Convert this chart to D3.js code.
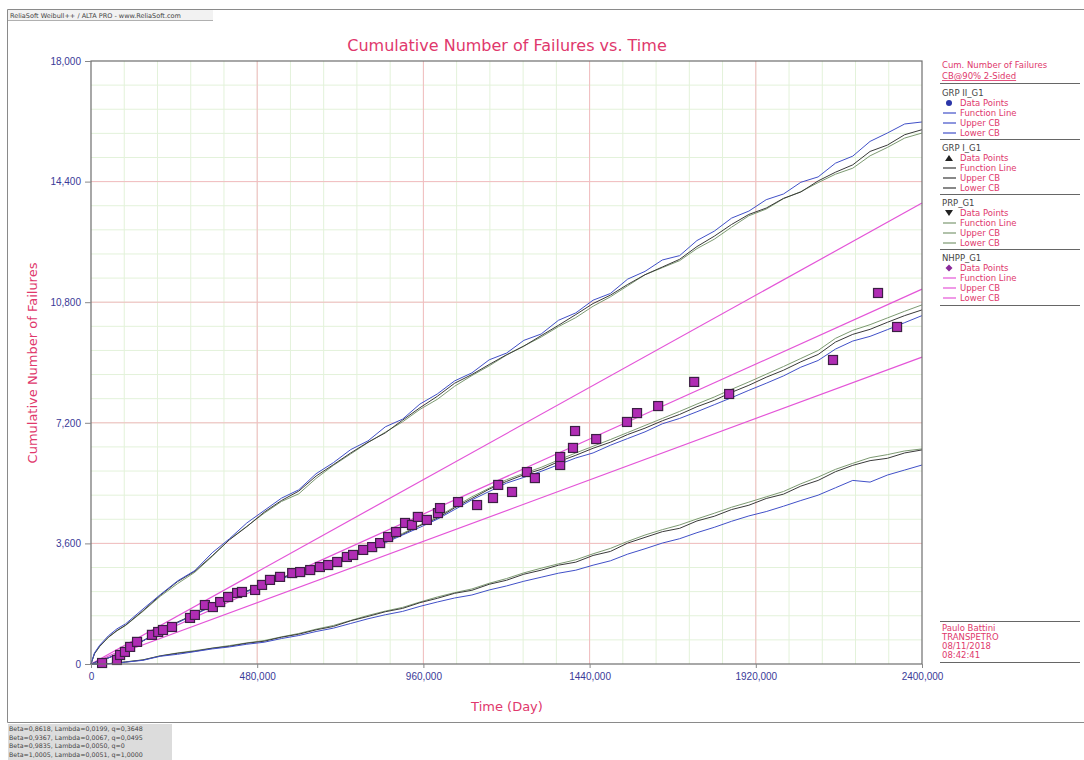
<!DOCTYPE html>
<html>
<head>
<meta charset="utf-8">
<script src="https://cdn.jsdelivr.net/npm/d3@7"></script>
<style>
  html, body { margin: 0; padding: 0; background: #fff; }
  svg { display: block; font-family: "DejaVu Sans", "Liberation Sans", sans-serif; }
</style>
</head>
<body>
<svg id="chart" width="1084" height="760"></svg>
<script>
// ---- data ----------------------------------------------------------------
const xTickValues = [0, 480000, 960000, 1440000, 1920000, 2400000];
const xTickLabels = ["0", "480,000", "960,000", "1440,000", "1920,000", "2400,000"];
const yTickValues = [0, 3600, 7200, 10800, 14400, 18000];
const yTickLabels = ["0", "3,600", "7,200", "10,800", "14,400", "18,000"];

// observed cumulative failures (time, count)
const obsTime = [32000, 75000, 84000, 98000, 113000, 133000, 176000, 194000, 208000, 234000,
  286000, 300000, 329000, 352000, 373000, 396000, 422000, 436000, 474000, 494000,
  517000, 546000, 581000, 604000, 633000, 661000, 685000, 711000, 739000, 757000,
  786000, 812000, 835000, 858000, 881000, 907000, 927000, 944000, 970000, 1002000,
  1008000, 1060000, 1115000, 1161000, 1176000, 1216000, 1259000, 1282000, 1355000, 1355000,
  1392000, 1398000, 1459000, 1548000, 1577000, 1638000, 1742000, 1843000, 2143000, 2273000,
  2328000];
const obsCount = [30, 120, 270, 360, 510, 660, 870, 955, 1015, 1105,
  1375, 1465, 1760, 1700, 1850, 2000, 2120, 2150, 2210, 2360,
  2510, 2600, 2715, 2745, 2805, 2895, 2955, 3045, 3195, 3255,
  3405, 3490, 3610, 3790, 3940, 4210, 4150, 4390, 4300, 4505,
  4655, 4835, 4745, 4955, 5345, 5135, 5730, 5550, 5940, 6180,
  6450, 6955, 6715, 7225, 7490, 7700, 8420, 8060, 9075, 11075,
  10060];

// simulated GRP / PRP curves sampled on a common time grid
const simTime = [0, 10000, 25000, 50000, 75000, 100000, 150000,
  200000, 250000, 300000, 350000, 400000, 450000, 500000, 550000, 600000, 650000,
  700000, 750000, 800000, 850000, 900000, 950000, 1000000, 1050000, 1100000, 1150000,
  1200000, 1250000, 1300000, 1350000, 1400000, 1450000, 1500000, 1550000, 1600000, 1650000,
  1700000, 1750000, 1800000, 1850000, 1900000, 1950000, 2000000, 2050000, 2100000, 2150000,
  2200000, 2250000, 2300000, 2350000, 2400000];

const grp2Upper = [0, 330, 560, 840, 1050, 1200, 1640, 2070, 2480, 2790, 3320, 3740, 4210, 4580, 4950, 5200, 5680, 6010, 6400, 6660, 7080, 7310, 7760, 8060, 8450, 8690, 9080, 9280, 9660, 9850, 10260, 10480, 10860, 11060, 11490, 11720, 12060, 12190, 12640, 12920, 13310, 13520, 13860, 14030, 14380, 14540, 14950, 15160, 15600, 15850, 16120, 16180];
const grp2Fn    = [0, 40, 110, 180, 290, 390, 690, 980, 1230, 1480, 1720, 1960, 2160, 2340, 2540, 2730, 2880, 3020, 3210, 3400, 3620, 3850, 4080, 4320, 4610, 4900, 5150, 5400, 5570, 5750, 5950, 6150, 6300, 6530, 6730, 6930, 7170, 7330, 7530, 7740, 7950, 8170, 8380, 8600, 8860, 9060, 9400, 9640, 9780, 9980, 10190, 10400];
const grp2Lower = [0, 0, 0, 10, 28, 55, 110, 230, 290, 370, 450, 510, 590, 650, 760, 850, 970, 1070, 1210, 1350, 1470, 1570, 1720, 1850, 1970, 2060, 2210, 2330, 2470, 2590, 2710, 2800, 2950, 3080, 3280, 3440, 3610, 3740, 3920, 4080, 4260, 4420, 4550, 4710, 4880, 5040, 5260, 5480, 5430, 5640, 5790, 5940];

const grp1Upper = [0, 310, 530, 800, 1000, 1160, 1590, 2050, 2460, 2770, 3230, 3710, 4100, 4530, 4880, 5160, 5610, 5950, 6300, 6620, 6900, 7280, 7650, 7990, 8380, 8640, 8940, 9230, 9490, 9800, 10110, 10430, 10760, 11010, 11330, 11620, 11850, 12080, 12460, 12770, 13120, 13420, 13610, 13900, 14090, 14420, 14680, 14900, 15300, 15490, 15800, 15950];
const grp1Fn    = [0, 40, 110, 180, 290, 390, 690, 985, 1250, 1480, 1740, 1960, 2180, 2350, 2570, 2740, 2910, 3040, 3250, 3420, 3660, 3870, 4130, 4350, 4660, 4940, 5220, 5450, 5650, 5810, 6040, 6230, 6440, 6620, 6850, 7040, 7260, 7450, 7680, 7870, 8110, 8320, 8560, 8770, 9020, 9240, 9610, 9840, 9990, 10200, 10400, 10570];
const grp1Lower = [0, 0, 0, 10, 30, 60, 120, 240, 320, 380, 470, 530, 620, 680, 800, 890, 1020, 1120, 1290, 1420, 1560, 1660, 1830, 1960, 2110, 2200, 2380, 2500, 2680, 2800, 2950, 3040, 3240, 3360, 3610, 3780, 3950, 4050, 4270, 4410, 4610, 4740, 4940, 5070, 5310, 5480, 5740, 5930, 6070, 6140, 6300, 6390];

const prpUpper  = [0, 300, 520, 790, 990, 1150, 1570, 2020, 2400, 2740, 3210, 3720, 4110, 4500, 4850, 5080, 5540, 5930, 6270, 6610, 6920, 7230, 7600, 7900, 8290, 8610, 8900, 9220, 9490, 9760, 10070, 10340, 10680, 10960, 11290, 11620, 11830, 12040, 12400, 12680, 13040, 13380, 13580, 13890, 14100, 14370, 14620, 14800, 15170, 15420, 15700, 15850];
const prpFn     = [0, 40, 110, 180, 295, 395, 695, 990, 1250, 1500, 1740, 1980, 2180, 2370, 2570, 2760, 2910, 3060, 3260, 3450, 3680, 3900, 4150, 4390, 4690, 4990, 5250, 5500, 5690, 5870, 6090, 6300, 6500, 6700, 6910, 7120, 7330, 7540, 7760, 7970, 8200, 8420, 8650, 8880, 9120, 9360, 9720, 9960, 10130, 10330, 10530, 10720];
const prpLower  = [0, 0, 0, 10, 32, 65, 125, 245, 330, 400, 475, 550, 630, 700, 810, 910, 1040, 1150, 1300, 1450, 1580, 1690, 1850, 2000, 2130, 2240, 2410, 2550, 2720, 2860, 2990, 3110, 3290, 3450, 3660, 3850, 4010, 4150, 4330, 4500, 4680, 4830, 4990, 5150, 5380, 5580, 5810, 5990, 6160, 6250, 6360, 6420];

// NHPP power-law fit (nearly linear, beta ~ 1) and its bounds
const nhppTime  = [0, 2400000];
const nhppFn    = [0, 11190];
const nhppUpper = [0, 13760];
const nhppLower = [0, 9160];

const legendGroups = ["GRP II_G1", "GRP I_G1", "PRP_G1", "NHPP_G1"];
const legendRows = ["Data Points", "Function Line", "Upper CB", "Lower CB"];
const paramLines = [
  "Beta=0,8618, Lambda=0,0199, q=0,3648",
  "Beta=0,9367, Lambda=0,0067, q=0,0495",
  "Beta=0,9835, Lambda=0,0050, q=0",
  "Beta=1,0005, Lambda=0,0051, q=1,0000"
];
const userInfo = ["Paulo Battini", "TRANSPETRO", "08/11/2018", "08:42:41"];

// ---- drawing ---------------------------------------------------------------
const svg = d3.select("#chart");
const PL = 91, PR = 922, PT = 61, PB = 664;
const x = d3.scaleLinear().domain([0, 2400000]).range([PL, PR]);
const y = d3.scaleLinear().domain([0, 18000]).range([PB, PT]);

const pinkText = "#e0386c";
const navy = "#3a3a98";
const cBlue = "#4150c8", cDark = "#3a3a3a", cGreen = "#7d9a72", cPink = "#e455d8";

// window frame and header
svg.append("line").attr("x1", 7.5).attr("x2", 1084).attr("y1", 9.5).attr("y2", 9.5).attr("stroke", "#8a8a8a");
svg.append("line").attr("x1", 7.5).attr("x2", 7.5).attr("y1", 9.5).attr("y2", 722.5).attr("stroke", "#8a8a8a");
svg.append("line").attr("x1", 7.5).attr("x2", 1084).attr("y1", 722.5).attr("y2", 722.5).attr("stroke", "#8a8a8a");
svg.append("rect").attr("x", 8).attr("y", 10).attr("width", 205).attr("height", 10).attr("fill", "#f2f2f2");
svg.append("line").attr("x1", 8).attr("x2", 213).attr("y1", 20.5).attr("y2", 20.5).attr("stroke", "#b0b0b0");
svg.append("text").attr("x", 10).attr("y", 18).attr("font-size", 6.5).attr("fill", "#444")
  .text("ReliaSoft Weibull++ / ALTA PRO - www.ReliaSoft.com");

// minor grid
const gGrid = svg.append("g");
d3.range(96000, 2400000, 96000).forEach(v => {
  gGrid.append("line").attr("x1", x(v)).attr("x2", x(v)).attr("y1", PT).attr("y2", PB)
    .attr("stroke", "#e3f2da").attr("stroke-width", 1);
});
d3.range(720, 18000, 720).forEach(v => {
  gGrid.append("line").attr("x1", PL).attr("x2", PR).attr("y1", y(v)).attr("y2", y(v))
    .attr("stroke", "#e3f2da").attr("stroke-width", 1);
});
// major grid
xTickValues.slice(1, -1).forEach(v => {
  gGrid.append("line").attr("x1", x(v)).attr("x2", x(v)).attr("y1", PT).attr("y2", PB)
    .attr("stroke", "#f2bcc0").attr("stroke-width", 1);
});
yTickValues.slice(1, -1).forEach(v => {
  gGrid.append("line").attr("x1", PL).attr("x2", PR).attr("y1", y(v)).attr("y2", y(v))
    .attr("stroke", "#f2bcc0").attr("stroke-width", 1);
});

// curves
const line = d3.line().x(d => x(d[0])).y(d => y(d[1]));
const gLines = svg.append("g").attr("fill", "none").attr("stroke-linejoin", "round");
function drawSeries(ts, vs, color, w) {
  gLines.append("path").datum(ts.map((t, i) => [t, vs[i]]))
    .attr("d", line).attr("stroke", color).attr("stroke-width", w || 1);
}
drawSeries(nhppTime, nhppUpper, cPink, 1.2);
drawSeries(nhppTime, nhppFn, cPink, 1.2);
drawSeries(nhppTime, nhppLower, cPink, 1.2);

drawSeries(simTime, prpUpper, cGreen);
drawSeries(simTime, grp1Upper, cDark);
drawSeries(simTime, grp2Upper, cBlue);
drawSeries(simTime, prpLower, cGreen);
drawSeries(simTime, grp1Lower, cDark);
drawSeries(simTime, grp2Lower, cBlue);
drawSeries(simTime, prpFn, cGreen);
drawSeries(simTime, grp1Fn, cDark);
drawSeries(simTime, grp2Fn, cBlue);

// observed points
const pts = obsTime.map((t, i) => [t, obsCount[i]]);
svg.append("g").selectAll("rect").data(pts).join("rect")
  .attr("x", d => x(d[0]) - 4.5).attr("y", d => y(d[1]) - 4.5)
  .attr("width", 9).attr("height", 9)
  .attr("fill", "#b02cb4").attr("stroke", "#3c1f44").attr("stroke-width", 1.2);

// plot frame
svg.append("rect").attr("x", PL).attr("y", PT).attr("width", PR - PL).attr("height", PB - PT)
  .attr("fill", "none").attr("stroke", "#6e6e6e").attr("stroke-width", 1.2);

// axes
const yAxis = d3.axisLeft(y).tickValues(yTickValues)
  .tickFormat((d, i) => yTickLabels[i]).tickSize(6).tickSizeOuter(0).tickPadding(4);
const gy = svg.append("g").attr("transform", `translate(${PL},0)`).call(yAxis);
gy.select(".domain").remove();
gy.selectAll("line").attr("stroke", "#888");
gy.selectAll("text").attr("fill", navy).attr("font-size", 10);

const xAxis = d3.axisBottom(x).tickValues(xTickValues)
  .tickFormat((d, i) => xTickLabels[i]).tickSize(4).tickSizeOuter(0).tickPadding(5);
const gx = svg.append("g").attr("transform", `translate(0,${PB})`).call(xAxis);
gx.select(".domain").remove();
gx.selectAll("line").attr("stroke", "#888");
gx.selectAll("text").attr("fill", navy).attr("font-size", 10);

// titles
svg.append("text").attr("x", 507).attr("y", 51).attr("text-anchor", "middle")
  .attr("font-size", 16).attr("fill", pinkText).text("Cumulative Number of Failures vs. Time");
svg.append("text").attr("x", 507).attr("y", 711).attr("text-anchor", "middle")
  .attr("font-size", 13).attr("fill", pinkText).text("Time (Day)");
svg.append("text").attr("transform", "translate(37,363) rotate(-90)").attr("text-anchor", "middle")
  .attr("font-size", 13).attr("fill", pinkText).text("Cumulative Number of Failures");

// legend panel
const gL = svg.append("g").attr("font-size", 8.5);
gL.append("text").attr("x", 942).attr("y", 68).attr("fill", pinkText).text("Cum. Number of Failures");
gL.append("text").attr("x", 942).attr("y", 79).attr("fill", pinkText)
  .attr("text-decoration", "underline").text("CB@90% 2-Sided");
const sepY = [83.5, 139.5, 194.5, 249.5, 305.5];
sepY.forEach(v => gL.append("line").attr("x1", 940).attr("x2", 1080).attr("y1", v).attr("y2", v)
  .attr("stroke", "#666").attr("stroke-width", 1.2));
const groupColors = [cBlue, cDark, cGreen, cPink];
legendGroups.forEach((g, gi) => {
  const top = 93 + gi * 55;
  gL.append("text").attr("x", 942).attr("y", top + 3).attr("fill", "#444").text(g);
  legendRows.forEach((r, ri) => {
    const ry = top + 10 + ri * 10;
    gL.append("text").attr("x", 960).attr("y", ry + 3).attr("fill", pinkText).text(r);
    if (ri === 0) {
      if (gi === 0) gL.append("circle").attr("cx", 949).attr("cy", ry).attr("r", 3).attr("fill", "#2a35a8");
      if (gi === 1) gL.append("path").attr("d", `M945,${ry + 3}L949,${ry - 3}L953,${ry + 3}Z`).attr("fill", "#222");
      if (gi === 2) gL.append("path").attr("d", `M945,${ry - 3}L949,${ry + 3}L953,${ry - 3}Z`).attr("fill", "#222");
      if (gi === 3) gL.append("path").attr("d", `M949,${ry - 3.5}L952.5,${ry}L949,${ry + 3.5}L945.5,${ry}Z`).attr("fill", "#8a2a9a");
    } else {
      gL.append("line").attr("x1", 943).attr("x2", 956).attr("y1", ry).attr("y2", ry)
        .attr("stroke", groupColors[gi]).attr("stroke-width", 1.2);
    }
  });
});

// user block
gL.append("line").attr("x1", 940).attr("x2", 1080).attr("y1", 621.5).attr("y2", 621.5).attr("stroke", "#666").attr("stroke-width", 1.2);
userInfo.forEach((u, i) => gL.append("text").attr("x", 942).attr("y", 631 + i * 9).attr("fill", pinkText).text(u));
gL.append("line").attr("x1", 940).attr("x2", 1080).attr("y1", 662.5).attr("y2", 662.5).attr("stroke", "#666").attr("stroke-width", 1.2);

// parameter block
svg.append("rect").attr("x", 8).attr("y", 724).attr("width", 164).attr("height", 36).attr("fill", "#dcdcdc");
paramLines.forEach((p, i) => svg.append("text").attr("x", 9).attr("y", 731 + i * 8.5)
  .attr("font-size", 6.3).attr("fill", "#444").text(p));
</script>
</body>
</html>
